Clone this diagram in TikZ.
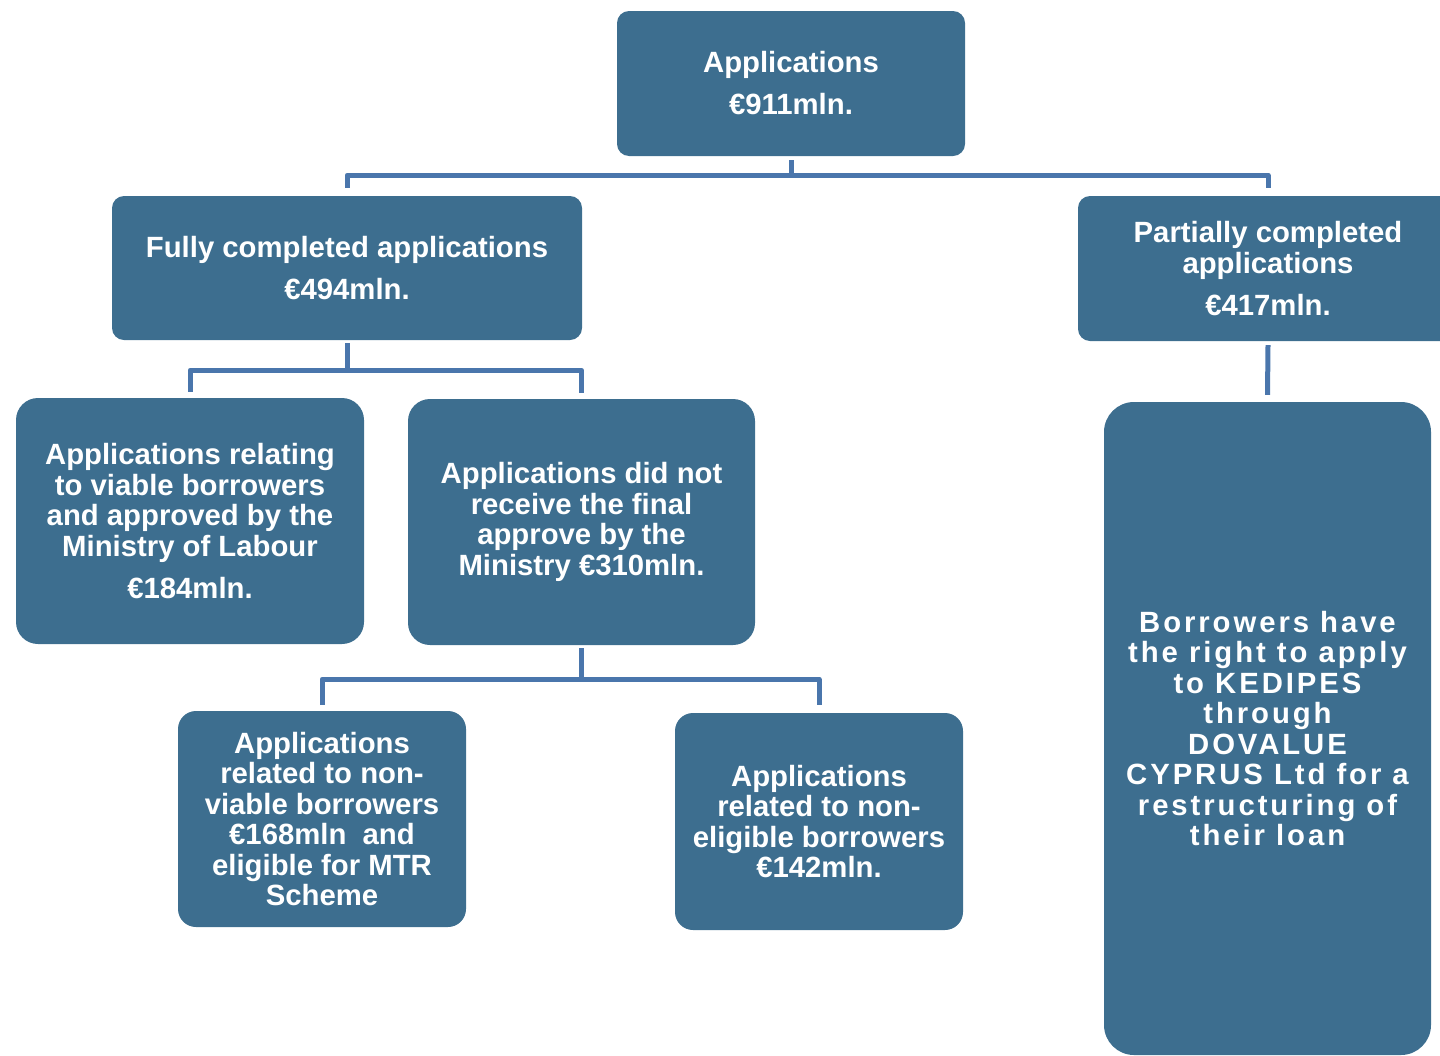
\documentclass[tikz,border=0pt]{standalone}
\usepackage{fontspec}
\setmainfont{Liberation Sans}
\newfontfamily\spacedfont{Liberation Sans}[LetterSpace=10]
\definecolor{boxblue}{HTML}{3D6E8F}
\definecolor{connblue}{HTML}{4A76AC}
\begin{document}
\begin{tikzpicture}[x=1pt,y=-1pt,
  box/.style={fill=boxblue, draw=none, text=white, align=center,
    font=\fontsize{29.3}{30.5}\selectfont\bfseries, inner sep=0pt},
  conn/.style={draw=connblue, line width=5pt, line join=round}]
\useasboundingbox (0,0) rectangle (1440,1055);
\node[box, rounded corners=12pt, minimum width=348pt, minimum height=145pt] (top) at (791,83.5)
  {Applications\\[11.5pt]€911mln.};
\node[box, rounded corners=12pt, minimum width=470pt, minimum height=144pt] (fully) at (347,268)
  {Fully completed applications\\[11.5pt]€494mln.};
\node[box, rounded corners=12pt, minimum width=380pt, minimum height=145pt] (partial) at (1268,268.5)
  {Partially completed\\applications\\[11.5pt]€417mln.};
\node[box, rounded corners=22pt, minimum width=348pt, minimum height=246pt] (viable) at (190,521)
  {Applications relating\\to viable borrowers\\and approved by the\\Ministry of Labour\\[11.5pt]€184mln.};
\node[box, rounded corners=22pt, minimum width=347pt, minimum height=246pt] (notfinal) at (581.5,522)
  {Applications did not\\receive the final\\approve by the\\Ministry €310mln.};
\node[box, rounded corners=18pt, minimum width=288pt, minimum height=216pt] (nonviable) at (322,819)
  {Applications\\related to non-\\viable borrowers\\€168mln\ \ and\\eligible for MTR\\Scheme};
\node[box, rounded corners=18pt, minimum width=288pt, minimum height=217pt] (noneligible) at (819,821.5)
  {Applications\\related to non-\\eligible borrowers\\€142mln.};
\node[box, rounded corners=30pt, minimum width=327pt, minimum height=653pt,
  font=\spacedfont\fontsize{29.3}{30.5}\selectfont\bfseries] (borrowers) at (1267.5,728.5)
  {Borrowers have\\the right to apply\\to KEDIPES\\through\\DOVALUE\\CYPRUS Ltd for a\\restructuring of\\their loan};
% connectors
\coordinate (j1) at ([yshift=-19pt]top.south);
\draw[conn] ([yshift=-4pt]top.south) -- (j1);
\draw[conn] ([yshift=8pt]fully.north) |- (j1) -| ([yshift=8pt]partial.north);
\coordinate (j2) at ([yshift=-30pt]fully.south);
\draw[conn] ([yshift=-3pt]fully.south) -- (j2);
\draw[conn] ([yshift=6pt]viable.north) |- (j2) -| ([yshift=6pt]notfinal.north);
\coordinate (j3) at ([yshift=-34pt]notfinal.south);
\draw[conn] ([yshift=-3pt]notfinal.south) -- (j3);
\draw[conn] ([yshift=6pt]nonviable.north) |- (j3) -| ([yshift=8pt]noneligible.north);
\draw[conn] ([yshift=-4pt]partial.south) -- ([yshift=7pt]borrowers.north);
\end{tikzpicture}
\end{document}
